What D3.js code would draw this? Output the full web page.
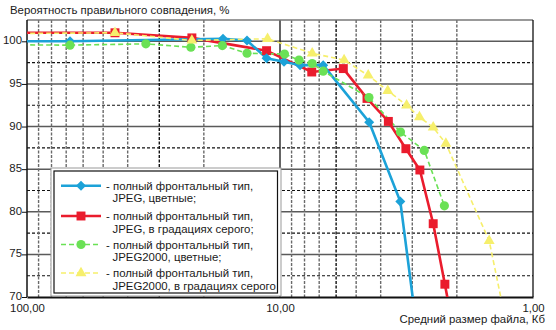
<!DOCTYPE html>
<html>
<head>
<meta charset="utf-8">
<script src="https://cdn.jsdelivr.net/npm/d3@7"></script>
<style>
  html, body { margin: 0; padding: 0; background: #fff; }
  svg { display: block; font-family: "Liberation Sans", Arial, sans-serif; }
</style>
</head>
<body>
<svg id="chart" width="556" height="330"></svg>
<script>
// Average file size, Kb (log axis, reversed) and match probability, %
const blueSize   = [130, 67.6, 16.8, 13.5, 11.3, 9.64, 8.33, 6.75, 4.44, 3.345, 2.96];
const blueValue  = [100.0, 100.0, 100.3, 100.1, 98.0, 97.6, 97.2, 97.2, 90.5, 81.2, 69];

const redSize    = [130, 44.9, 22.3, 11.3, 7.49, 5.62, 4.53, 3.73, 3.18, 2.80, 2.48, 2.23, 2.15];
const redValue   = [101.0, 101.0, 100.4, 98.9, 96.4, 96.8, 93.3, 90.6, 87.4, 84.9, 78.6, 71.5, 69];

const greenSize  = [130, 67.6, 33.9, 22.5, 16.9, 13.5, 9.6, 8.41, 7.46, 6.75, 4.45, 3.34, 2.69, 2.24];
const greenValue = [99.6, 99.55, 99.7, 99.3, 99.5, 98.6, 98.5, 97.8, 97.4, 96.5, 93.4, 89.35, 87.2, 80.7];

const yellowSize  = [130, 44.9, 22.3, 11.2, 7.46, 5.58, 4.48, 3.75, 3.16, 2.81, 2.48, 2.21, 1.49, 1.32];
const yellowValue = [100.9, 101.0, 100.1, 100.3, 98.6, 97.8, 96.0, 94.2, 92.5, 91.1, 89.9, 88.0, 76.6, 69];

const legendLabels = [
  ["- полный фронтальный тип,", "JPEG, цветные;"],
  ["- полный фронтальный тип,", "JPEG, в градациях серого;"],
  ["- полный фронтальный тип,", "JPEG2000, цветные;"],
  ["- полный фронтальный тип,", "JPEG2000, в градациях серого"]
];

const yTicks = [70, 75, 80, 85, 90, 95, 100];
const yHalfTicks = [72.5, 77.5, 82.5, 87.5, 92.5, 97.5];
const xTicks = [100, 10, 1];
const xTickLabels = ["100,00", "10,00", "1,00"];
const xMinor = [90, 80, 70, 60, 50, 40, 30, 20, 9, 8, 7, 6, 5, 4, 3, 2];

const yTitle = "Вероятность правильного совпадения, %";
const xTitle = "Средний размер файла, Кб";

const FS = 11.4;
const svg = d3.select("#chart");
const pL = 27, pR = 533, pT = 20, pB = 297;

const x = d3.scaleLog().domain([100, 1]).range([pL, pR]);
const y = d3.scaleLinear().domain([70, 102.5]).range([pB, pT]);

svg.append("defs").append("clipPath").attr("id", "plot")
  .append("rect").attr("x", pL).attr("y", pT)
  .attr("width", pR - pL).attr("height", pB - pT);

// grid
const grid = svg.append("g");
grid.selectAll(".hmaj").data(yTicks.filter(d => d > 70)).join("line")
  .attr("x1", pL).attr("x2", pR)
  .attr("y1", d => y(d)).attr("y2", d => y(d))
  .attr("stroke", "#5a5a5a").attr("stroke-width", 1.5);
grid.selectAll(".hmin").data(yHalfTicks).join("line")
  .attr("x1", pL).attr("x2", pR)
  .attr("y1", d => y(d)).attr("y2", d => y(d))
  .attr("stroke", "#111").attr("stroke-width", 1.1)
  .attr("stroke-dasharray", "3,2");
grid.selectAll(".vmin").data(xMinor).join("line")
  .attr("x1", d => x(d)).attr("x2", d => x(d))
  .attr("y1", pT).attr("y2", pB)
  .attr("stroke", d => (d === 30 || d === 6) ? "#111" : "#6a6a6a")
  .attr("stroke-width", 1.4)
  .attr("stroke-dasharray", "3,1.5");
grid.append("line")
  .attr("x1", x(10)).attr("x2", x(10)).attr("y1", pT).attr("y2", pB)
  .attr("stroke", "#111").attr("stroke-width", 1.3);

// frame
svg.append("line").attr("x1", pL).attr("x2", pR).attr("y1", pT).attr("y2", pT)
  .attr("stroke", "#777").attr("stroke-width", 1.3);
svg.append("line").attr("x1", pR).attr("x2", pR).attr("y1", pT).attr("y2", pB)
  .attr("stroke", "#111").attr("stroke-width", 1.3);

// axes
const yAxis = svg.append("g").attr("transform", `translate(${pL},0)`)
  .call(d3.axisLeft(y).tickValues(yTicks).tickSize(5).tickFormat(d3.format("d")));
yAxis.select(".domain").attr("stroke", "#111").attr("stroke-width", 1.5)
  .attr("d", `M0,${pT}V${pB}`);
yAxis.selectAll(".tick line").attr("stroke", "#111");
yAxis.selectAll(".tick text").attr("x", -5).attr("dy", "0.22em").attr("font-size", FS)
  .attr("fill", "#1a1a1a").attr("font-family", "Liberation Sans, Arial, sans-serif");

const xAxis = svg.append("g").attr("transform", `translate(0,${pB})`)
  .call(d3.axisBottom(x).tickValues(xTicks).tickSize(0)
    .tickFormat((d, i) => xTickLabels[i]));
xAxis.select(".domain").attr("stroke", "#111").attr("stroke-width", 2);
xAxis.selectAll(".tick text").attr("y", 7).attr("font-size", FS).attr("fill", "#1a1a1a")
  .attr("font-family", "Liberation Sans, Arial, sans-serif");

// titles
svg.append("text").attr("x", 10).attr("y", 14).attr("font-size", FS).attr("fill", "#1a1a1a")
  .text(yTitle);
svg.append("text").attr("x", 545).attr("y", 323).attr("text-anchor", "end")
  .attr("font-size", FS).attr("fill", "#1a1a1a").text(xTitle);

// series
const series = [
  { size: redSize, value: redValue, color: "#ea1c2d", width: 2.6, dash: null, symbol: d3.symbolSquare, sym: 80 },
  { size: blueSize, value: blueValue, color: "#1ca2d8", width: 2.6, dash: null, symbol: d3.symbolDiamond2, sym: 64 },
  { size: greenSize, value: greenValue, color: "#6ae155", width: 1.6, dash: "5,3", symbol: d3.symbolCircle, sym: 66 },
  { size: yellowSize, value: yellowValue, color: "#f6ef6c", width: 1.6, dash: "5,3", symbol: d3.symbolTriangle, sym: 52 }
];
const legendOrder = [1, 0, 2, 3];

const plot = svg.append("g").attr("clip-path", "url(#plot)");
const line = d3.line().x(d => x(d[0])).y(d => y(d[1]));

series.forEach(s => {
  const pts = s.size.map((v, i) => [v, s.value[i]]);
  plot.append("path").datum(pts).attr("d", line)
    .attr("fill", "none").attr("stroke", s.color).attr("stroke-width", s.width)
    .attr("stroke-dasharray", s.dash);
});
series.forEach(s => {
  const pts = s.size.map((v, i) => [v, s.value[i]]);
  plot.selectAll(null).data(pts).join("path")
    .attr("transform", d => `translate(${x(d[0])},${y(d[1])})`)
    .attr("d", d3.symbol().type(s.symbol).size(s.sym))
    .attr("fill", s.color);
});

// legend
const lg = svg.append("g");
lg.append("rect").attr("x", 51).attr("y", 168).attr("width", 230).attr("height", 128)
  .attr("fill", "#fff").attr("stroke", "#999").attr("stroke-width", 1);
lg.append("rect").attr("x", 54).attr("y", 171).attr("width", 223.5).attr("height", 122)
  .attr("fill", "#fff").attr("stroke", "#111").attr("stroke-width", 1.2);

const rowY = [185.7, 216, 244.5, 273];
legendOrder.forEach((si, k) => {
  const s = series[si];
  const yy = rowY[k];
  lg.append("line").attr("x1", 61).attr("x2", 101).attr("y1", yy).attr("y2", yy)
    .attr("stroke", s.color).attr("stroke-width", s.width).attr("stroke-dasharray", s.dash);
  lg.append("path").attr("transform", `translate(81,${yy})`)
    .attr("d", d3.symbol().type(s.symbol).size(s.sym)).attr("fill", s.color);
  lg.append("text").attr("x", 106).attr("y", yy + 4).attr("font-size", FS)
    .attr("fill", "#1a1a1a").text(legendLabels[k][0]);
  lg.append("text").attr("x", 112.5).attr("y", yy + 16.5).attr("font-size", FS)
    .attr("fill", "#1a1a1a").text(legendLabels[k][1]);
});
</script>
</body>
</html>
